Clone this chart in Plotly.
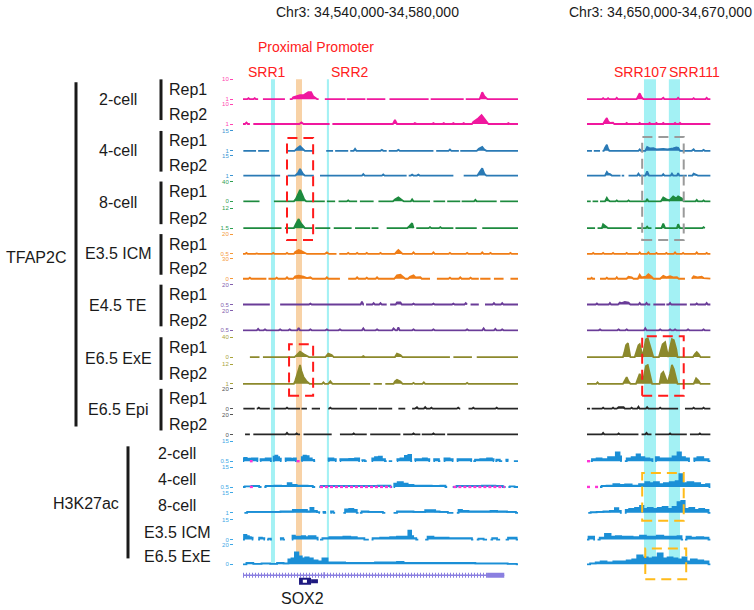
import plotly.graph_objects as go

W, H = 754, 610

# ===================== DATA =====================
region_left = "Chr3: 34,540,000-34,580,000"   # 40 kb window (x in kb from start)
region_right = "Chr3: 34,650,000-34,670,000"  # 20 kb window
left_span_kb = 40
right_span_kb = 20

tf_stages = ["2-cell", "4-cell", "8-cell", "E3.5 ICM", "E4.5 TE", "E6.5 ExE", "E6.5 Epi"]
h3_stages = ["2-cell", "4-cell", "8-cell", "E3.5 ICM", "E6.5 ExE"]
reps = ["Rep1", "Rep2"]

# track scale labels (top / bottom), 14 TFAP2C tracks then 5 H3K27ac tracks
track_top = [10, 10, 15, 15, 40, 12, 20, 30, 20, 20, 40, 12, 20, 20, 15, 15, 15, 15, 20]
track_bottom = ["1", "1", "1", "1", "0", "1.5", "0.5", "0", "0.5", "0.5", "0", "1", "0", "0",
                "0.5", "0.5", "1", "0", "0"]

# covered intervals (kb) per track, left window
left_segments = [
    [[0, 2.2], [2.9, 6.1], [6.8, 11.0], [11.9, 14.9], [15.1, 17.8], [18.0, 20.7], [21.3, 27.0], [27.3, 32.1], [32.4, 40]],
    [[0, 1.0], [1.5, 12.6], [13.0, 40]],
    [[0.05, 1.9], [2.2, 3.8], [6.3, 10.3], [12.1, 13.1], [13.4, 15.3], [15.6, 20.9], [21.2, 27.7], [28.1, 31.4], [31.6, 40]],
    [[0.05, 5.4], [6.5, 10.3], [11.2, 23.8], [24.1, 30.6], [32.1, 40]],
    [[0.05, 2.4], [4.5, 11.9], [12.2, 13.4], [13.9, 16.6], [17.0, 19.0], [19.7, 27.2], [27.7, 29.4], [29.7, 31.6], [31.8, 36.9], [37.4, 40]],
    [[0.05, 5.6], [6.1, 10.3], [10.5, 12.7], [13.2, 15.8], [16.3, 18.5], [18.7, 19.7], [20.9, 24.8], [25.2, 30.6], [30.9, 34.0], [34.8, 40]],
    [[0, 13.6], [14.0, 40]],
    [[0, 3.4], [3.7, 14.1], [15.3, 27.2], [28.2, 34.3], [34.5, 36.0], [36.5, 37.9], [38.9, 40]],
    [[0, 3.9], [5.4, 17.6], [17.9, 20.9], [21.4, 32.6], [33.1, 34.3], [35.2, 40]],
    [[0, 40]],
    [[1.0, 2.4], [2.9, 30.1], [30.6, 33.3], [34.0, 40]],
    [[0, 18.5], [19.0, 20.2], [20.7, 40]],
    [[0.05, 1.7], [2.0, 3.9], [4.4, 8.3], [8.5, 9.3], [10.0, 11.2], [12.4, 16.6], [17.0, 19.5], [19.7, 21.7], [22.6, 23.6], [24.6, 31.6], [32.8, 40]],
    [[0.3, 1.0], [1.5, 8.3], [8.8, 12.9], [14.1, 18.0], [18.5, 22.9], [23.3, 25.8], [26.0, 29.4], [29.7, 40]],
    [[0, 2.2], [2.5, 4.2], [4.4, 5.6], [6.1, 7.8], [8.5, 10.5], [12.4, 13.6], [14.1, 17.0], [17.3, 18.0], [18.7, 20.9], [21.2, 21.7], [22.4, 24.6], [25.0, 27.2], [27.7, 28.7], [29.2, 30.6], [31.1, 33.3], [33.5, 36.5], [36.7, 37.7], [38.2, 38.6], [39.4, 40]],
    [[0, 2.7], [3.1, 10.5], [11.1, 21.7], [21.9, 29.7], [30.5, 38.2], [38.6, 40]],
    [[0.2, 11.2], [11.6, 12.1], [12.7, 13.4], [14.6, 16.8], [17.0, 20.7], [21.9, 30.6], [31.1, 40]],
    [[0, 1.5], [2.2, 3.2], [3.5, 4.2], [5.4, 6.1], [7.1, 11.0], [11.2, 18.3], [18.7, 25.5], [26.5, 33.5], [34.0, 35.5], [36.0, 37.4], [38.2, 40]],
    [[0, 40]],
]

# signal samples (kb, value) per track, left window
left_points = [
    [(0.6, 0), (0.8, 0.5), (1.0, 0), (1.5, 0), (1.7, 0.5), (1.9, 0), (7.1, 0), (7.3, 1.0), (7.8, 1.5), (8.3, 2.0), (8.8, 2.0), (9.2, 3.0), (9.5, 3.5), (9.9, 3.5), (10.2, 1.5), (10.6, 0.5), (10.8, 0), (34.4, 0), (34.8, 3.5), (35.1, 1.5), (35.4, 0.5), (35.6, 0)],
    [(0.3, 0), (0.5, 0.7), (0.7, 0), (8.2, 0), (8.5, 0.8), (8.8, 0), (21.8, 0), (22.1, 2.0), (22.4, 0), (24.8, 0), (25.0, 0.5), (25.3, 0), (27.5, 0), (27.7, 0.5), (27.9, 0), (29.0, 0), (29.2, 0.5), (29.4, 0), (30.4, 0), (30.6, 0.5), (30.8, 0), (31.9, 0), (32.1, 0.5), (32.3, 0), (33.3, 0), (33.5, 1.0), (34.1, 2.5), (34.7, 4.5), (35.0, 3.0), (35.4, 1.0), (35.7, 0), (38.4, 0), (38.6, 0.5), (38.8, 0)],
    [(7.5, 0), (7.9, 2.0), (8.3, 3.5), (8.7, 1.5), (9.0, 0), (16.1, 0), (16.3, 1.5), (16.5, 0), (20.0, 0), (20.2, 0.7), (20.4, 0), (22.4, 0), (22.6, 0.7), (22.8, 0), (29.9, 0), (30.1, 1.0), (30.3, 0), (34.0, 0), (34.3, 1.5), (34.8, 3.0), (35.1, 1.0), (35.4, 0)],
    [(7.6, 0), (8.0, 2.0), (8.3, 5.0), (8.7, 1.5), (9.0, 0), (17.3, 0), (17.5, 1.1), (17.7, 0), (20.2, 0), (20.4, 0.9), (20.6, 0), (24.4, 0), (24.6, 0.8), (24.8, 0), (25.3, 0), (25.5, 0.8), (25.7, 0), (34.1, 0), (34.4, 2.5), (34.8, 5.5), (35.1, 1.5), (35.4, 0)],
    [(7.4, 0), (7.7, 5), (8.1, 16), (8.3, 23), (8.6, 14), (8.9, 4), (9.2, 0), (15.1, 0), (15.3, 2), (15.5, 0), (21.8, 0), (22.1, 4), (22.6, 8), (23.1, 3), (23.4, 0), (24.4, 0), (24.6, 4), (24.8, 0), (33.6, 0), (33.8, 3), (34.0, 0)],
    [(7.4, 0), (7.7, 2.5), (8.1, 5.5), (8.4, 3.0), (8.8, 1.2), (9.0, 0), (23.9, 0), (24.2, 1.2), (24.6, 3.0), (24.75, 0.8), (27.0, 0), (27.2, 0.6), (27.4, 0), (28.5, 0), (28.7, 0.6), (28.9, 0)],
    [(0.3, 0), (0.5, 1), (0.7, 0), (1.8, 0), (2.0, 0.5), (2.2, 0), (4.2, 0), (4.4, 1), (4.6, 0), (6.2, 0), (6.4, 1), (6.6, 0), (7.4, 0), (7.6, 2), (8.1, 4), (8.5, 3), (9.0, 1.5), (9.3, 0), (11.9, 0), (12.2, 1.5), (12.5, 0), (15.1, 0), (15.3, 1), (15.5, 0), (16.4, 0), (16.6, 1), (16.8, 0), (17.8, 0), (18.0, 1), (18.2, 0), (19.8, 0), (20.0, 1), (20.2, 0), (22.1, 0), (22.4, 2.5), (22.6, 4), (22.9, 2), (23.2, 0), (24.6, 0), (24.8, 1.5), (25.0, 0), (27.5, 0), (27.7, 1.5), (27.9, 0), (29.9, 0), (30.1, 1), (30.3, 0), (32.4, 0), (32.6, 1), (32.8, 0), (34.6, 0), (34.8, 1.5), (35.0, 0), (35.8, 0), (36.0, 1), (36.2, 0), (38.7, 0), (38.9, 1), (39.1, 0)],
    [(0.8, 0), (1.0, 1.5), (1.2, 0), (4.7, 0), (4.9, 1.5), (5.1, 0), (6.2, 0), (6.4, 2.2), (6.6, 0), (7.3, 0), (7.6, 3.7), (8.1, 4.5), (8.8, 3), (9.3, 1), (9.8, 2.2), (10.1, 0), (12.0, 0), (12.2, 2.2), (12.4, 0), (16.4, 0), (16.6, 2.2), (16.8, 0), (17.8, 0), (18.0, 1.5), (18.2, 0), (19.3, 0), (19.5, 2.2), (19.7, 0), (22.0, 0), (22.4, 5.2), (22.9, 6), (23.3, 2), (23.6, 0), (24.0, 0), (24.3, 3), (24.8, 5.2), (25.1, 2), (25.8, 2.2), (26.0, 0), (29.9, 0), (30.1, 1.5), (30.3, 0), (31.4, 0), (31.6, 2.2), (31.8, 0), (32.9, 0), (33.1, 1.5), (33.3, 0)],
    [(1.3, 0), (1.5, 0.7), (1.7, 0), (3.0, 0), (3.2, 0.7), (3.4, 0), (6.8, 0), (7.0, 0.7), (7.2, 0), (9.6, 0), (9.8, 1), (10.0, 0), (17.1, 0), (17.3, 3), (17.5, 0), (18.8, 0), (19.0, 1.5), (19.2, 0), (19.8, 0), (20.0, 1.5), (20.2, 0), (22.2, 0), (22.4, 2), (22.9, 2), (23.1, 0), (24.6, 0), (24.8, 1), (25.0, 0), (27.5, 0), (27.7, 1), (27.9, 0), (30.4, 0), (30.6, 1), (30.8, 0), (32.2, 0), (32.4, 1.5), (36.3, 0), (36.5, 1.5), (36.7, 0), (37.5, 0), (37.7, 1.5), (37.9, 0)],
    [(2.0, 0), (2.2, 1.5), (2.4, 0), (3.0, 0), (3.2, 1), (3.4, 0), (5.2, 0), (5.4, 1), (5.6, 0), (6.6, 0), (6.8, 1), (7.0, 0), (7.9, 0), (8.1, 2.5), (8.3, 0), (9.6, 0), (9.8, 1), (10.0, 0), (12.0, 0), (12.2, 1), (12.4, 0), (13.9, 0), (14.1, 1), (14.3, 0), (17.3, 0), (17.5, 2), (17.7, 0), (19.3, 0), (19.5, 1), (19.7, 0), (21.7, 0), (21.9, 2), (22.2, 0), (22.4, 0), (22.6, 3), (22.8, 0), (24.6, 0), (24.8, 1), (25.0, 0), (27.5, 0), (27.7, 1), (27.9, 0), (32.4, 0), (32.6, 1), (32.8, 0), (34.8, 0), (35.0, 2), (35.2, 0), (36.5, 0), (36.7, 1.5), (36.9, 0), (37.5, 0), (37.7, 1), (37.9, 0)],
    [(7.5, 0), (7.8, 4), (8.3, 11), (8.8, 6), (9.3, 3), (9.6, 0), (12.0, 0), (12.4, 7), (12.9, 4), (13.2, 0), (17.3, 0), (17.5, 2), (17.7, 0), (22.1, 0), (22.4, 7), (22.9, 4), (23.2, 0), (24.6, 0), (24.8, 1), (25.0, 0)],
    [(7.4, 0), (7.6, 1.8), (7.8, 4.8), (8.1, 9), (8.3, 11.4), (8.5, 7.8), (8.8, 4.2), (9.2, 1.8), (9.5, 0.6), (9.7, 0), (11.5, 0), (11.7, 0.9), (11.9, 0), (12.4, 0), (12.7, 1.6), (13.0, 0), (21.9, 0), (22.1, 1.5), (22.4, 2.4), (22.9, 1.5), (23.2, 0), (24.6, 0), (24.8, 0.6), (25.0, 0), (26.1, 0), (26.3, 0.9), (26.5, 0), (32.4, 0), (32.6, 0.6), (32.8, 0)],
    [(2.1, 0), (2.3, 1), (2.5, 0), (6.2, 0), (6.4, 1), (6.6, 0), (12.5, 0), (12.7, 1), (12.9, 0), (25.0, 0), (25.3, 1.5), (25.5, 0), (26.3, 0), (26.5, 1.5), (26.7, 0), (27.2, 0), (27.4, 1), (27.6, 0), (31.1, 0), (31.3, 1), (31.5, 0), (33.3, 0), (33.5, 1), (33.7, 0), (36.7, 0), (36.9, 1), (37.1, 0)],
    [(6.2, 0), (6.4, 1.5), (6.6, 0), (7.6, 0), (7.8, 1), (8.0, 0), (15.9, 0), (16.1, 1), (16.3, 0), (24.6, 0), (24.8, 1), (25.0, 0), (27.5, 0), (27.7, 1), (27.9, 0)],
    [(0.1, 2.2), (0.3, 2.5), (0.8, 1.8), (1.0, 2), (1.6, 2.2), (2.0, 2.2), (2.6, 1.5), (3.0, 1.5), (3.6, 2.2), (3.9, 2.2), (4.5, 3.5), (4.9, 4.2), (5.1, 3), (5.4, 2), (6.3, 2.2), (6.8, 2.2), (7.1, 1.8), (7.6, 2.2), (8.6, 3), (9.0, 4.2), (9.3, 3.8), (9.8, 2.2), (10.2, 1), (12.5, 2.2), (12.9, 2.2), (13.4, 1.5), (14.2, 1.5), (15.1, 1.5), (15.8, 1.8), (16.8, 2.2), (17.4, 0.8), (18.9, 2.2), (19.5, 3), (20.0, 3.4), (20.4, 1.5), (22.5, 1.5), (23.3, 2.2), (23.8, 4), (24.3, 4.7), (25.1, 1.5), (25.8, 1.5), (26.5, 2.2), (27.0, 1.5), (27.9, 1.5), (28.3, 1.5), (29.4, 2.2), (29.7, 2.2), (30.4, 1.5), (31.3, 1.5), (32.3, 1.5), (33.1, 1.5), (34.0, 1.1), (35.0, 1.5), (36.0, 2.2), (36.4, 1.5), (37.0, 1.1), (38.4, 1.1)],
    [(0.5, 0.5), (2.0, 0.75), (3.5, 0.75), (4.2, 0.75), (4.9, 1.1), (6.2, 0.75), (6.8, 3), (7.3, 1.5), (8.3, 1.1), (9.0, 1.1), (9.8, 0.75), (11.5, 0.75), (14.1, 0.75), (16.6, 0.75), (19.0, 0.75), (20.2, 1.1), (21.2, 1.1), (22.1, 2.6), (22.9, 3.7), (23.6, 2.6), (24.3, 1.5), (25.3, 1.1), (26.7, 1.1), (28.2, 0.75), (29.2, 1.1), (31.6, 0.75), (33.5, 0.75), (36.0, 1.1), (37.4, 0.75), (39.0, 0.5)],
    [(1.0, 0.75), (3.4, 0.75), (4.9, 0.75), (6.0, 1.1), (8.5, 2.2), (9.0, 2.2), (9.6, 1.1), (10.0, 3.7), (10.5, 1.5), (11.0, 0.5), (11.8, 0.75), (12.9, 1.1), (15.1, 2.6), (15.8, 3), (16.3, 2.2), (17.5, 1.1), (19.0, 0.75), (20.0, 0.75), (22.9, 1.1), (24.3, 1.1), (25.3, 0.75), (27.7, 1.9), (28.2, 1.1), (29.0, 0.75), (31.6, 2.2), (32.1, 1.5), (33.5, 1.1), (35.5, 1.1), (36.5, 1.5), (37.4, 1.1), (39.4, 0.75)],
    [(0.3, 3.5), (0.7, 2.5), (1.0, 1.9), (1.3, 1.5), (2.5, 1.5), (3.0, 1.1), (3.9, 0.75), (5.6, 1.1), (7.3, 3.0), (7.8, 2.2), (8.3, 2.2), (8.8, 2.6), (9.3, 1.9), (9.8, 2.6), (10.4, 2.6), (10.7, 1.5), (11.9, 1.1), (13.2, 1.9), (14.1, 1.9), (15.1, 2.2), (16.1, 1.9), (17.0, 1.1), (19.0, 1.1), (20.9, 1.5), (21.9, 1.9), (22.9, 2.2), (23.8, 2.2), (24.3, 6.7), (24.6, 2.6), (24.9, 1.1), (27.2, 2.2), (28.2, 1.5), (29.2, 1.5), (30.6, 1.1), (32.1, 1.1), (33.1, 1.1), (34.5, 0.75), (36.5, 1.1), (38.9, 1.5), (39.6, 1.5)],
    [(1.0, 1.5), (2.0, 0.5), (3.4, 1), (4.5, 0.5), (5.4, 1.5), (6.4, 1), (6.8, 5), (7.3, 6), (7.8, 12), (8.3, 8), (8.8, 6), (9.3, 7), (9.8, 6), (10.5, 4), (11.2, 3), (11.9, 6), (12.7, 2), (14.1, 2), (15.6, 1.5), (18.0, 1.5), (20.4, 2), (21.9, 2), (22.9, 2.5), (23.8, 1.5), (25.8, 1.5), (27.7, 1.5), (30.1, 1.5), (32.6, 1.5), (35.0, 1), (37.4, 1), (39.6, 0.5)],
]

right_segments = [
    [[0, 19.9]], [[0, 19.9]],
    [[0, 0.8], [1.1, 2.1], [2.5, 19.9]],
    [[0, 5.4], [5.6, 6.0], [6.7, 16.1], [16.3, 19.9]],
    [[0, 0.6], [0.9, 1.8], [2.1, 19.9]],
    [[0, 1.3], [1.7, 7.2], [8.1, 10.4], [11.0, 19.0]],
    [[0, 19.9]],
    [[0, 1.3], [2.1, 15.8], [16.9, 19.9]],
    [[0, 10.2], [10.7, 12.6], [12.8, 16.1], [16.6, 19.9]],
    [[0, 19.9]], [[0, 19.9]], [[0, 19.9]],
    [[0, 0.5], [0.75, 14.7], [15.8, 19.9]],
    [[0, 8.3], [8.8, 10.4], [11.0, 16.1], [16.6, 19.9]],
    [[0.6, 5.6], [6.1, 10.7], [11.0, 16.6], [17.2, 19.9]],
    [[2.1, 19.9]],
    [[0.2, 5.6], [6.1, 19.9]],
    [[0, 1.3], [1.7, 15.5], [15.8, 19.9]],
    [[0, 19.9]],
]

right_points = [
    [(2.4, 0), (2.6, 0.5), (2.8, 0), (3.2, 0), (3.4, 0.5), (3.6, 0), (4.6, 0), (4.8, 0.7), (5.0, 0), (8.0, 0), (8.3, 1.5), (8.5, 3), (8.8, 1.0), (9.1, 0), (12.0, 0), (12.3, 0.7), (12.5, 0), (14.5, 0), (14.7, 0.7), (14.9, 0), (17.0, 0), (17.2, 0.5), (17.4, 0), (19.1, 0), (19.3, 0.7), (19.5, 0)],
    [(2.6, 0), (2.9, 1.7), (3.2, 3), (3.4, 1.5), (3.7, 0.5), (4.2, 0.7), (4.4, 0), (6.2, 0), (6.4, 0.5), (6.6, 0), (8.3, 0), (8.5, 0.5), (8.7, 0), (9.9, 0), (10.1, 0.5), (10.3, 0), (11.0, 0), (11.2, 0.5), (11.4, 0), (12.1, 0), (12.3, 0.5), (12.5, 0), (14.0, 0), (14.2, 0.5), (14.4, 0), (14.8, 0), (15.0, 0.5), (15.2, 0)],
    [(2.7, 0), (2.9, 2.2), (3.2, 4.5), (3.4, 1.5), (3.6, 0), (8.3, 0), (8.5, 1.1), (8.7, 0), (9.4, 0), (9.7, 2.8), (10.1, 1.8), (10.7, 1.9), (11.2, 1.1), (12.3, 1.5), (13.0, 1.1), (13.9, 1.9), (14.4, 2.6), (14.7, 2.2), (15.0, 0), (16.9, 0), (17.2, 1.1), (17.4, 0), (18.6, 0), (18.8, 0.75), (19.0, 0)],
    [(2.9, 0), (3.2, 2.8), (3.4, 1.5), (3.7, 1.1), (4.0, 0), (8.1, 0), (8.3, 1.5), (8.5, 0), (9.4, 0), (9.7, 3.2), (10.0, 0), (12.1, 0), (12.3, 1.1), (12.5, 0), (13.5, 0), (13.7, 1.5), (13.9, 0), (14.5, 0), (14.7, 1.9), (14.9, 0), (17.0, 0), (17.2, 1.5), (17.7, 0.75), (17.9, 0)],
    [(2.9, 0), (3.2, 7), (3.4, 3), (3.7, 0), (4.6, 0), (4.8, 2), (5.0, 0), (6.5, 0), (6.7, 2), (6.9, 0), (9.5, 0), (9.7, 5), (9.9, 0), (11.9, 0), (12.3, 8), (12.8, 4), (13.3, 2), (13.9, 10), (14.4, 6), (14.7, 10), (15.3, 6), (15.6, 0), (17.5, 0), (17.7, 3), (17.9, 0), (18.6, 0), (18.8, 2), (19.0, 0)],
    [(2.4, 0), (2.6, 2.4), (2.9, 1.5), (3.2, 0.9), (3.4, 0), (9.5, 0), (9.7, 0.9), (9.9, 0), (12.0, 0), (12.3, 2.8), (12.6, 0), (14.5, 0), (14.7, 2.4), (15.0, 0), (18.6, 0), (18.8, 0.6)],
    [(0.8, 0), (1.0, 1), (1.2, 0), (2.4, 0), (2.6, 1), (2.8, 0), (4.0, 0), (4.2, 1), (4.4, 0), (6.2, 0), (6.4, 1), (6.6, 0), (8.3, 0), (8.5, 1.5), (8.7, 0), (9.7, 0), (9.9, 1.5), (10.1, 0), (11.0, 0), (11.2, 1), (11.4, 0), (12.6, 0), (12.8, 1), (13.0, 0), (14.0, 0), (14.2, 1.5), (14.4, 0), (15.3, 0), (15.5, 1), (15.7, 0), (17.5, 0), (17.7, 1.5), (17.9, 0), (19.1, 0), (19.3, 1), (19.5, 0)],
    [(0.6, 0), (0.75, 1.5), (0.9, 0), (3.0, 0), (3.2, 1.5), (3.4, 0), (4.6, 0), (4.8, 2.2), (5.0, 0), (6.4, 0), (6.7, 3), (7.2, 2.2), (7.5, 0), (8.2, 0), (8.5, 6), (8.8, 2), (9.5, 3), (9.9, 6.7), (10.4, 3), (10.7, 0), (11.8, 0), (12.3, 4.5), (12.8, 2), (13.4, 3.7), (13.9, 2), (14.5, 2.2), (14.8, 0), (17.2, 3.7), (17.8, 2), (18.5, 3), (18.8, 1)],
    [(1.4, 0), (1.6, 1), (1.8, 0), (3.5, 0), (3.7, 1.5), (3.9, 0), (5.0, 0), (5.3, 2), (5.6, 1.5), (6.1, 2.5), (6.7, 2), (7.0, 0), (8.3, 0), (8.5, 1.5), (8.7, 0), (9.4, 0), (9.6, 1.5), (9.8, 0), (13.2, 0), (13.4, 1.5), (13.6, 0), (17.5, 0), (17.7, 1), (17.9, 0), (19.1, 0), (19.3, 1.5), (19.5, 0)],
    [(1.9, 0), (2.1, 1), (2.3, 0), (4.9, 0), (5.1, 1), (5.3, 0), (6.2, 0), (6.4, 1), (6.6, 0), (9.2, 0), (9.4, 2), (9.6, 0), (11.6, 0), (11.8, 1), (12.0, 0), (13.2, 0), (13.4, 1), (13.6, 0), (14.0, 0), (14.2, 1), (14.4, 0), (16.1, 0), (16.3, 1), (16.5, 0), (18.6, 0), (18.8, 1), (19.0, 0)],
    [(2.7, 0), (2.9, 1), (3.1, 0), (5.8, 0), (6.0, 8), (6.3, 24), (6.6, 28), (6.8, 10), (7.0, 0), (7.7, 0), (7.9, 10), (8.3, 24), (8.5, 26), (8.8, 12), (9.0, 0), (9.2, 16), (9.5, 36), (9.8, 38), (10.2, 20), (10.5, 6), (10.7, 0), (11.6, 0), (11.8, 10), (12.2, 26), (12.6, 30), (12.8, 16), (13.1, 0), (13.4, 20), (13.7, 36), (14.0, 34), (14.4, 16), (14.6, 0), (17.1, 0), (17.4, 6), (17.7, 10), (18.0, 6), (18.3, 0)],
    [(1.5, 0), (1.7, 0.9), (1.9, 0), (5.8, 0), (6.1, 1.8), (6.4, 4), (6.7, 1.5), (7.0, 0), (7.9, 0), (8.3, 4.8), (8.5, 6), (8.8, 3.6), (9.0, 0.5), (9.2, 5), (9.5, 10.8), (9.8, 11.4), (10.2, 4.8), (10.5, 0), (11.7, 0), (12.0, 6), (12.3, 7.2), (12.7, 3), (13.0, 0.5), (13.4, 6), (13.7, 11.4), (14.0, 9), (14.4, 3.6), (14.6, 0), (17.2, 0), (17.6, 3.4), (18.0, 1.8), (18.3, 0)],
    [(2.4, 0), (2.6, 1), (2.8, 0), (4.0, 0), (4.2, 1), (4.4, 0), (4.8, 0), (5.1, 1.5), (5.6, 1.5), (5.9, 1.5), (6.1, 0), (7.0, 0), (7.2, 1), (7.4, 0), (8.1, 0), (8.3, 2), (8.5, 0), (9.5, 0), (9.7, 1.5), (9.9, 0), (11.6, 0), (11.8, 1), (12.0, 0), (17.0, 0), (17.2, 1), (17.4, 0), (18.6, 0), (18.8, 1), (19.0, 0)],
    [(2.4, 0), (2.6, 1.5), (2.8, 0), (4.9, 0), (5.1, 1), (5.3, 0), (9.4, 0), (9.6, 1.5), (9.8, 0), (13.2, 0), (13.4, 1), (13.6, 0), (18.0, 0), (18.2, 1), (18.4, 0)],
    [(1.0, 1.5), (2.1, 2.2), (2.6, 1.5), (4.2, 3), (5.1, 6.7), (5.4, 3.7), (6.7, 2.2), (7.7, 3), (8.3, 5.2), (8.8, 3), (9.7, 2.2), (10.4, 1.5), (11.2, 3), (12.0, 2.2), (13.4, 2.2), (14.2, 3.7), (15.0, 6.7), (15.3, 3), (16.3, 2.2), (17.4, 2.2), (18.2, 3), (19.3, 1.5)],
    [(2.6, 0.75), (3.7, 1.1), (4.8, 2.2), (5.6, 1.5), (6.7, 1.9), (7.7, 1.1), (9.1, 2.2), (9.7, 3.7), (10.4, 3), (11.2, 3.7), (12.0, 2.2), (12.8, 3), (13.9, 3.7), (14.7, 4.5), (15.1, 9.7), (15.8, 3), (16.6, 3.7), (17.7, 3), (18.8, 1.5), (19.6, 2.2)],
    [(1.0, 0.4), (2.1, 0.75), (3.2, 1.1), (4.2, 1.5), (4.8, 3.5), (5.3, 1.5), (6.4, 2.2), (7.2, 3), (8.3, 3.7), (8.8, 5.2), (9.4, 3), (10.2, 3.7), (11.0, 3), (11.8, 3.7), (12.6, 4.5), (13.4, 3), (14.2, 4.5), (15.0, 8), (15.4, 9), (16.1, 3), (16.9, 3.7), (17.7, 2.2), (18.5, 3), (19.3, 2.2)],
    [(0.5, 2.2), (1.0, 2.2), (2.4, 1.5), (3.4, 4.2), (4.2, 2.2), (5.1, 2.6), (5.9, 2.2), (6.7, 2.2), (8.0, 1.9), (9.1, 3), (9.9, 2.2), (10.7, 2.2), (11.8, 3), (12.8, 2.2), (14.2, 2.2), (15.0, 2.6), (16.3, 2.2), (17.2, 1.5), (18.2, 1.9), (19.3, 1.5)],
    [(1.0, 1), (1.8, 2), (2.6, 3), (3.7, 2), (4.8, 3), (5.9, 3), (6.9, 4), (7.7, 5), (8.5, 9), (9.4, 7), (10.2, 6), (11.0, 7), (11.8, 11), (12.6, 6), (13.4, 7), (14.2, 6), (15.0, 5), (15.8, 7), (16.3, 3), (17.2, 5), (18.2, 4), (19.3, 3)],
]

# magenta (no-data) stretches on H3K27ac tracks: {track index: intervals}
pink_left = {14: [[1.0, 1.4], [7.8, 8.4]], 15: [[1.0, 1.5], [11.2, 21.6], [30.6, 38.1]]}
pink_right = {14: [[0, 0.5]], 15: [[0, 0.5], [1.3, 1.8]]}

# highlighted regions (kb)
left_highlights = [("SRR1", 4.07, 4.65, "cyan"), ("Proximal Promoter", 7.71, 8.58, "orange"), ("SRR2", 12.2, 12.5, "cyan")]
right_highlights = [("SRR107", 9.19, 11.13, "cyan"), ("SRR111", 13.2, 15.0, "cyan")]

# gene models (kb, left window)
host_gene = dict(start=0.0, end=38.0, exon_start=35.5, exon_end=38.0, mark=11.8)
sox2_gene = dict(start=8.15, cds_end=9.9, end=10.9, utr_start=8.7, utr_end=9.3, name="SOX2")

# ===================== STYLE / LAYOUT =====================
FONT = "Liberation Sans, Arial, sans-serif"
track_colors = ["#f0189e"] * 2 + ["#2a7ab5"] * 2 + ["#1d8a3e"] * 2 + ["#f07d16"] * 2 + \
               ["#6a3c98"] * 2 + ["#8c892c"] * 2 + ["#262626"] * 2 + ["#1b8fd6"] * 5
tick_colors = ["#ff45b0"] * 2 + ["#3c95d3"] * 2 + ["#2fa052"] * 2 + ["#f5993a"] * 2 + \
              ["#8460ae"] * 2 + ["#aaa43c"] * 2 + ["#555555"] * 2 + ["#3ea8e6"] * 5
band_colors = {"cyan": "#a3f1f4", "orange": "#f8d2a6"}
baselines = [97, 122, 149, 174, 200, 227, 253, 278, 304, 330, 357, 384, 409, 435, 462, 488, 514, 541, 566]
TRACK_PX = 20
LEFT_DOM = [243 / W, 518 / W]
RIGHT_DOM = [587 / W, 711 / W]


def py(p):
    return 1 - p / H


def polyline(segs, pts):
    xs, ys = [], []
    for s, e in segs:
        inner = sorted(p for p in pts if s < p[0] < e)
        xs += [s] + [p[0] for p in inner] + [e, None]
        ys += [0] + [p[1] for p in inner] + [0, None]
    return xs, ys


fig = go.Figure()
layout = dict(
    width=W, height=H, margin=dict(l=0, r=0, t=0, b=0),
    paper_bgcolor="white", plot_bgcolor="rgba(0,0,0,0)", showlegend=False,
    font=dict(family=FONT, color="#1a1a1a"),
    xaxis=dict(domain=LEFT_DOM, range=[0, left_span_kb], visible=False, anchor="y20"),
    xaxis2=dict(domain=RIGHT_DOM, range=[0, right_span_kb], visible=False, anchor="y20"),
)

n_tracks = len(track_top)
for i in range(n_tracks):
    b = baselines[i]
    top = track_top[i]
    key = "yaxis" if i == 0 else f"yaxis{i + 1}"
    layout[key] = dict(
        domain=[py(b + 1.5), py(b - TRACK_PX)],
        range=[-top * 1.5 / TRACK_PX, top],
        anchor="free", position=233 / W,
        tickmode="array", tickvals=[0, top], ticktext=[track_bottom[i], str(top)],
        ticks="outside", ticklen=3, tickwidth=1, tickcolor=tick_colors[i],
        tickfont=dict(size=6, color=tick_colors[i], family=FONT),
        showgrid=False, zeroline=False, showline=False, fixedrange=True,
    )
    yname = "y" if i == 0 else f"y{i + 1}"
    c = track_colors[i]
    shape = "hvh" if i >= 14 else "linear"
    for xname, segs, pts, pinks in (("x", left_segments[i], left_points[i], pink_left.get(i, [])),
                                    ("x2", right_segments[i], right_points[i], pink_right.get(i, []))):
        xs, ys = polyline(segs, pts)
        fig.add_trace(go.Scatter(x=xs, y=ys, xaxis=xname, yaxis=yname, mode="lines",
                                 line=dict(color=c, width=1.8, shape=shape), fill="tozeroy", fillcolor=c,
                                 hoverinfo="skip"))
        if pinks:
            pxs, pys = [], []
            for s, e in pinks:
                pxs += [s, e, None]
                pys += [0, 0, None]
            fig.add_trace(go.Scatter(x=pxs, y=pys, xaxis=xname, yaxis=yname, mode="lines",
                                     line=dict(color="#ff33d6", width=2.5, dash="3px,2px"),
                                     hoverinfo="skip"))

# gene track axis
layout["yaxis20"] = dict(domain=[py(592), py(568)], range=[0, 24], visible=False, fixedrange=True)
gene_col = "#8a7fe0"
fig.add_trace(go.Scatter(x=[host_gene["start"], host_gene["end"]], y=[15, 15], xaxis="x", yaxis="y20",
                         mode="lines", line=dict(color=gene_col, width=1.6), hoverinfo="skip"))
fig.add_trace(go.Scatter(x=[host_gene["start"], host_gene["exon_start"]], y=[15, 15], xaxis="x", yaxis="y20",
                         mode="lines", line=dict(color=gene_col, width=5, dash="1px,2px"), hoverinfo="skip"))
fig.add_trace(go.Scatter(x=[host_gene["exon_start"], host_gene["exon_end"]], y=[15, 15], xaxis="x", yaxis="y20",
                         mode="lines", line=dict(color=gene_col, width=5), hoverinfo="skip"))
fig.add_trace(go.Scatter(x=[host_gene["mark"], host_gene["mark"]], y=[12, 18], xaxis="x", yaxis="y20",
                         mode="lines", line=dict(color=gene_col, width=1.5), hoverinfo="skip"))
navy = "#1e1a80"
fig.add_trace(go.Scatter(x=[sox2_gene["start"], sox2_gene["cds_end"]], y=[9, 9], xaxis="x", yaxis="y20",
                         mode="lines", line=dict(color=navy, width=7), hoverinfo="skip"))
fig.add_trace(go.Scatter(x=[sox2_gene["cds_end"], sox2_gene["end"]], y=[9, 9], xaxis="x", yaxis="y20",
                         mode="lines", line=dict(color=navy, width=4), hoverinfo="skip"))
fig.add_trace(go.Scatter(x=[sox2_gene["utr_start"], sox2_gene["utr_end"]], y=[9, 9], xaxis="x", yaxis="y20",
                         mode="lines", line=dict(color="white", width=3), hoverinfo="skip"))

shapes = []
# highlight bands
for xr, hl in (("x", left_highlights), ("x2", right_highlights)):
    for name, s, e, col in hl:
        shapes.append(dict(type="rect", xref=xr, yref="paper", x0=s, x1=e, y0=py(565), y1=py(77),
                           fillcolor=band_colors[col], line=dict(width=0), layer="below"))

# dashed boxes
boxes = [("x", 6.4, 10.2, 136, 239, "#ff1a1a"), ("x", 6.7, 10.2, 344, 396, "#ff1a1a"),
         ("x2", 8.9, 15.6, 135, 239, "#9a9a9a"), ("x2", 8.9, 15.6, 336, 396, "#ff1a1a"),
         ("x2", 8.9, 15.6, 474, 522, "#ffbb1a"), ("x2", 9.4, 16.0, 550, 581, "#ffbb1a")]
for xr, x0, x1, ytop, ybot, col in boxes:
    shapes.append(dict(type="rect", xref=xr, yref="paper", x0=x0, x1=x1, y0=py(ybot), y1=py(ytop),
                       line=dict(color=col, width=2, dash="10px,6px"), fillcolor="rgba(0,0,0,0)", layer="above"))


def vbar(xp, ytop, ybot, width=3):
    return dict(type="rect", xref="paper", yref="paper", x0=(xp - width / 2) / W, x1=(xp + width / 2) / W,
                y0=py(ybot), y1=py(ytop), fillcolor="#1a1a1a", line=dict(width=0))


annotations = []


def text(xp, ypix, s, size=16, color="#1a1a1a", xanchor="center"):
    annotations.append(dict(x=xp / W, y=py(ypix), xref="paper", yref="paper", text=s, showarrow=False,
                            xanchor=xanchor, yanchor="middle", font=dict(size=size, color=color, family=FONT)))


# TFAP2C hierarchy
shapes.append(vbar(76, 80, 427))
text(36, 257, "TFAP2C")
for k, stage in enumerate(tf_stages):
    b1, b2 = baselines[2 * k], baselines[2 * k + 1]
    r1, r2 = b1 - 10, b2 - 10
    text(118, (r1 + r2) / 2 - 2.5, stage)
    text(167, r1, reps[0], xanchor="left")
    text(167, r2, reps[1], xanchor="left")
    shapes.append(vbar(161, b1 - 20, b2 - 4))

# H3K27ac hierarchy
shapes.append(vbar(128, 447, 560))
text(86, 505, "H3K27ac")
for k, stage in enumerate(h3_stages):
    text(177, baselines[14 + k] - 7.5, stage)

# titles and region labels
red = "#ff2020"
text(367, 9, region_left, size=14)
text(660, 9, region_right, size=14)
text(316, 44, "Proximal Promoter", size=14, color=red)
text(267, 70, "SRR1", size=14, color=red)
text(350, 70, "SRR2", size=14, color=red)
text(640, 70, "SRR107", size=14, color=red)
text(694, 70, "SRR111", size=14, color=red)
annotations.append(dict(x=8.6, y=py(600), xref="x", yref="paper", text=sox2_gene["name"], showarrow=False,
                        xanchor="center", yanchor="middle", font=dict(size=16, color="#1a1a1a", family=FONT)))

layout["shapes"] = shapes
layout["annotations"] = annotations
fig.update_layout(**layout)
fig.write_html("out.html")
